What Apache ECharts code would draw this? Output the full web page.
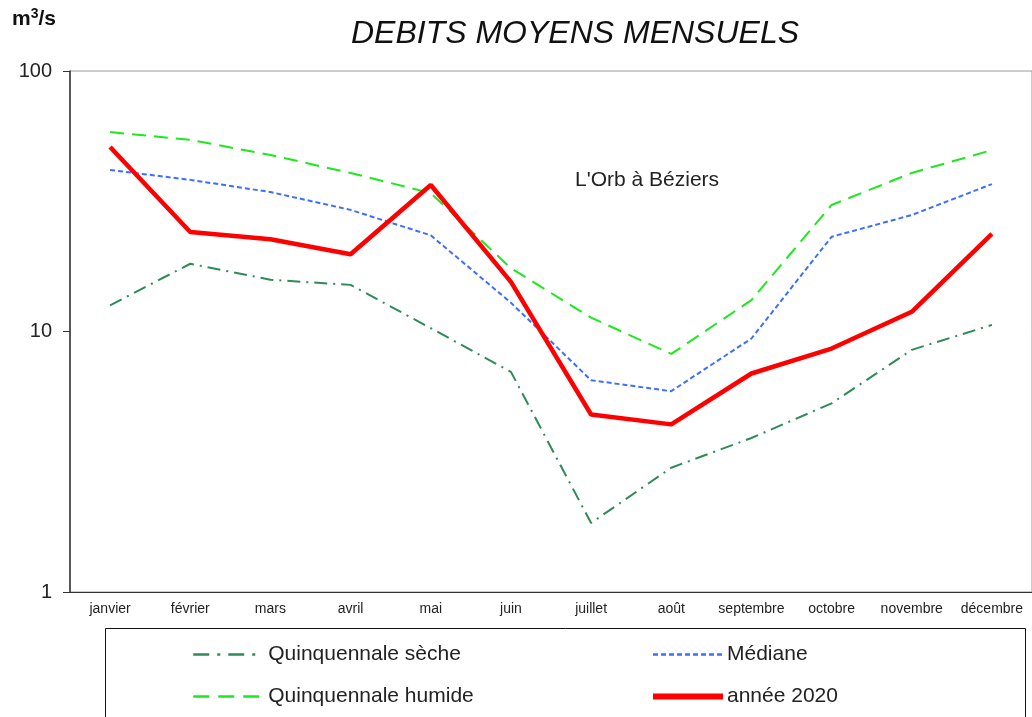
<!DOCTYPE html>
<html>
<head>
<meta charset="utf-8">
<script src="https://cdn.jsdelivr.net/npm/echarts@6/dist/echarts.min.js"></script>
<style>
  html, body { margin: 0; padding: 0; background: #fff; }
  #chart { width: 1032px; height: 717px; }
</style>
</head>
<body>
<div id="chart"></div>
<script>
  // mois
  const mois = ['janvier', 'février', 'mars', 'avril', 'mai', 'juin', 'juillet', 'août', 'septembre', 'octobre', 'novembre', 'décembre'];
  // débits en m3/s
  const quinqSeche = [12.6, 18.2, 15.8, 15.1, 10.3, 7.0, 1.84, 3.0, 3.9, 5.3, 8.5, 10.6];
  const mediane = [41.7, 38.2, 34.3, 29.3, 23.4, 12.9, 6.5, 5.9, 9.4, 23.1, 28.0, 36.8];
  const quinqHumide = [58.3, 54.4, 47.6, 40.6, 34.0, 17.5, 11.3, 8.2, 13.2, 30.6, 40.6, 49.7];
  const annee2020 = [51.1, 24.1, 22.6, 19.8, 36.5, 15.5, 4.8, 4.4, 6.9, 8.6, 11.9, 23.7];
  const yTicks = [1, 10, 100];

  const font = 'Liberation Sans, Arial, sans-serif';
  const txt = '#222';
  let myChart = echarts.init(document.getElementById('chart'));

  myChart.setOption({
    animation: false,
    textStyle: { fontFamily: font },
    title: {
      text: 'DEBITS MOYENS MENSUELS',
      left: 570, top: 13, textAlign: 'center',
      textStyle: { fontSize: 32, fontStyle: 'italic', fontWeight: 'normal', color: '#111', fontFamily: font }
    },
    graphic: [
      { // unité
        type: 'text', left: 12, top: 7,
        style: {
          text: 'm{sup|3}/s', fill: '#111', font: 'bold 21px ' + font,
          rich: { sup: { fontSize: 14, fontWeight: 'bold', verticalAlign: 'top', padding: [0, 0, 10, 0], fill: '#111' } }
        }
      },
      { // station
        type: 'text', left: 575, top: 170,
        style: { text: "L'Orb à Béziers", fill: txt, font: '21px ' + font }
      },
      { // cadre de la légende
        type: 'rect', shape: { x: 105.5, y: 628.5, width: 920, height: 100 },
        style: { fill: 'none', stroke: '#111', lineWidth: 1 }
      }
    ],
    legend: [
      {
        data: [
          { name: 'Quinquennale sèche', lineStyle: { width: 2.5, type: [16, 8, 3, 8] } },
          { name: 'Quinquennale humide', lineStyle: { width: 2.5, type: [16, 9] } }
        ],
        orient: 'vertical', left: 187, top: 639,
        itemWidth: 70, itemHeight: 14, itemGap: 21,
        itemStyle: { opacity: 0 },
        textStyle: { fontSize: 21, color: txt, padding: [0, 0, 0, 0] }
      },
      {
        data: [
          { name: 'Médiane', lineStyle: { width: 2.5 } },
          { name: 'année 2020', lineStyle: { width: 6 } }
        ],
        orient: 'vertical', left: 645, top: 639,
        itemWidth: 70, itemHeight: 14, itemGap: 21,
        itemStyle: { opacity: 0 },
        textStyle: { fontSize: 21, color: txt, padding: [0, 0, 0, -1] }
      }
    ],
    grid: {
      left: 70, top: 71, width: 968, bottom: 125,
      show: true, borderColor: '#999', borderWidth: 1
    },
    xAxis: {
      type: 'category',
      data: mois,
      boundaryGap: true,
      axisLine: { lineStyle: { color: '#333', width: 1 } },
      axisTick: { inside: true, length: 5, lineStyle: { color: '#333' } },
      axisLabel: { fontSize: 14, color: txt, margin: 10, interval: 0 },
      splitLine: { show: false }
    },
    yAxis: {
      type: 'log',
      logBase: 10,
      min: yTicks[0], max: yTicks[yTicks.length - 1],
      axisLine: { show: true, lineStyle: { color: '#333', width: 1.5 } },
      axisTick: { show: true, length: 7, lineStyle: { color: '#333' } },
      axisLabel: { fontSize: 20, color: txt, margin: 18 },
      minorTick: { show: false },
      splitLine: { show: false }
    },
    series: [
      {
        name: 'Quinquennale sèche', type: 'line', data: quinqSeche,
        symbol: 'none', z: 2,
        lineStyle: { color: '#2e8b57', width: 2, type: [13, 6, 2, 6] },
        itemStyle: { color: '#2e8b57' }
      },
      {
        name: 'Médiane', type: 'line', data: mediane,
        symbol: 'none', z: 3,
        lineStyle: { color: '#3d6fff', width: 2, type: [5, 3] },
        itemStyle: { color: '#3d6fff' }
      },
      {
        name: 'Quinquennale humide', type: 'line', data: quinqHumide,
        symbol: 'none', z: 2,
        lineStyle: { color: '#1ee81e', width: 2, type: [14, 8] },
        itemStyle: { color: '#1ee81e' }
      },
      {
        name: 'année 2020', type: 'line', data: annee2020,
        symbol: 'none', z: 4,
        lineStyle: { color: '#ff0000', width: 4.5 },
        itemStyle: { color: '#ff0000' }
      }
    ]
  });
</script>
</body>
</html>
